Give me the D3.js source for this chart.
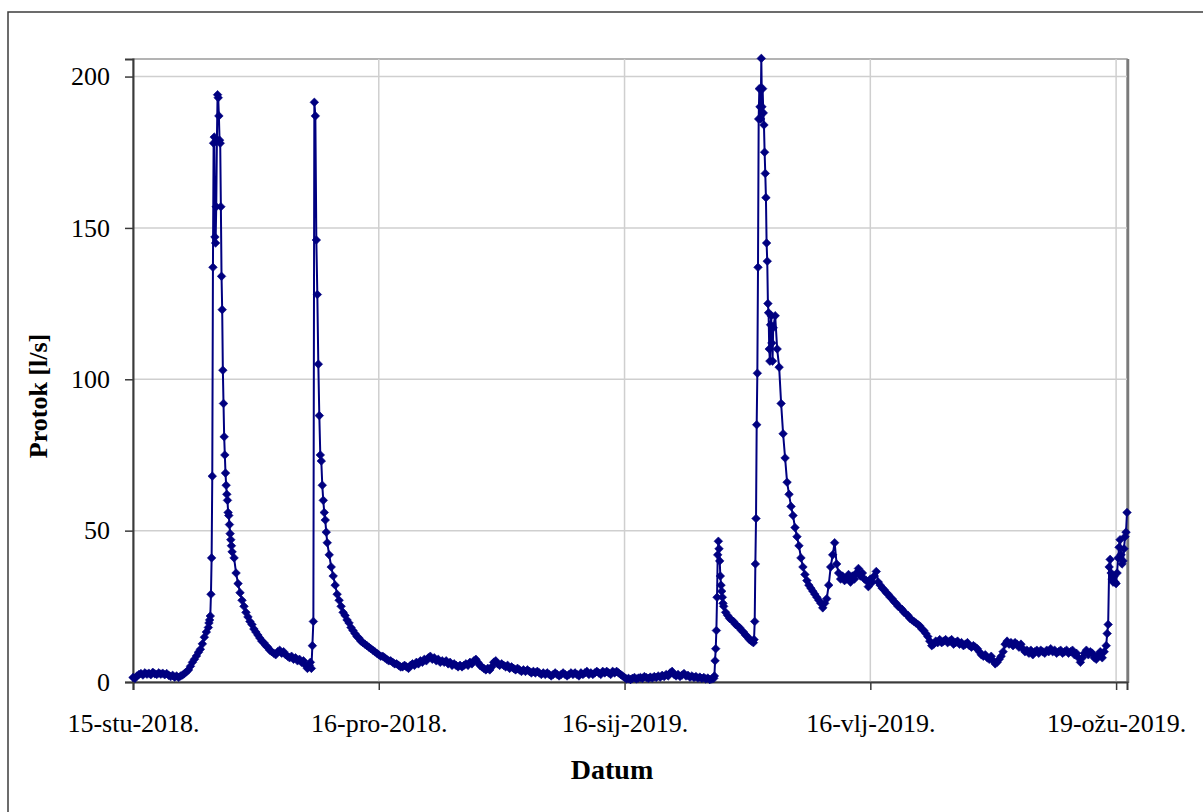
<!DOCTYPE html>
<html><head><meta charset="utf-8">
<script src="https://cdn.jsdelivr.net/npm/d3@7"></script>
<style>body{margin:0;background:#fff}svg{display:block}</style>
</head><body>
<svg id="c" width="1203" height="812"></svg>
<script>
// ---------- DATA (flow in l/s) ----------
// Regular 6-hour readings, one line per day (00, 06, 12, 18 h); null = covered by detailed peak records
const novFlow = [ // from 15 Nov 2018
  1.5, 1.2, 2.0, 2.5,
  2.8, 2.3, 3.0, 2.6,
  2.9, 2.4, 3.2, 2.7,
  2.5, 3.0, 2.6, 2.9,
  2.4, 2.8, 2.2, 1.8,
  2.2, 1.6, 2.0, 1.5,
  2.0, 2.3, 2.8, 3.4,
  4.0, 5.2, 6.5, 7.5,
  8.6, 9.8, 10.8, 12.6,
  14.8, 16.5, null, null,
  null, null, null, null,
  null, null, null, null,
  null, null, null, 41,
  36, 32.5, 29.5, 27,
  25, 23, 21.5, 20,
  19, 17.5, 16.5, 15.5
];
const decFlow = [ // from 1 Dec 2018
  14.5, 13.5, 13, 12,
  11.5, 10.5, 10, 9.5,
  9, 10, 10.5, 9.5,
  10, 9, 8.5, 8,
  8.5, 7.5, 8, 7,
  7.5, 6.5, 7, 5.5,
  4.5, 5.5, null, null,
  null, null, null, null,
  null, null, null, 42,
  38, 35, 32, 29,
  27, 25, 23, 22,
  20.5, 19.5, 18, 17,
  16, 15, 14.5, 13.5,
  13, 12.5, 12, 11.5,
  11, 10.5, 10, 9.5,
  9, 8.5, 8.5, 8,
  7.5, 7, 7, 6.5,
  6, 6, 5.5, 5,
  5, 5.5, 5, 4.5,
  5.5, 6, 5.5, 6.5,
  6, 7, 6.5, 7.5,
  7, 8, 8.5, 7.5,
  8, 7, 7.5, 6.5,
  7, 6.5, 7, 6,
  6.5, 5.5, 6, 5.5,
  5, 5.5, 5, 5.5,
  6, 5.5, 6.5, 6,
  7, 7.5, 6.5, 5.5,
  5, 4.5, 4, 4.5,
  4, 5, 6.5, 7,
  6, 5.5, 6, 5.5
];
const janFlow = [ // from 1 Jan 2019
  5, 5.5, 4.5, 5,
  4.5, 4, 4.5, 4,
  3.5, 4, 3.5, 4,
  3.5, 3, 3.5, 3,
  3.5, 3, 2.5, 3,
  2.5, 3, 2.5, 2,
  2.5, 3, 2.5, 2,
  2.5, 3, 2.5, 2,
  2.5, 3, 2.5, 3,
  2.5, 2, 3, 2.5,
  3, 3.5, 2.5, 3,
  2.5, 3, 3.5, 3,
  2.5, 3.5, 3, 3.5,
  3, 2.5, 3.5, 3,
  3.5, 3, 2.5, 2,
  1.5, 1, 1.2, 0.8,
  1.2, 1.5, 1, 1.3,
  1.5, 1.2, 1.8, 1.5,
  1.2, 1.6, 1.3, 1.8,
  1.5, 2, 1.6, 2.2,
  1.8, 2.5, 2, 3,
  3.5, 2.5, 2, 2.5,
  1.8, 2.3, 2.8, 2,
  2.2, 1.6, 2, 1.5,
  1.8, 1.3, 1.6, 1.2,
  1.5, 1, 1.3, 0.8,
  1, 1.2, null, null,
  null, null, null, 23,
  22, 21, 20.5, 20,
  19, 18.5, 18, 17,
  16.5, 15.5, 15, 14
];
const febFlow = [ // from 1 Feb 2019
  13.5, 13, null, null,
  null, null, null, null,
  null, null, null, 117,
  121, 110, 104, 92,
  82, 74, 66, 62,
  58, 55, 51, 48,
  45, 41, 38, 35.5,
  33.5, 32, 31, 30,
  29, 28, 27, 26,
  24.5, 26, 27.5, 32,
  38, 42, 46, 39,
  36, 34, 35, 33.5,
  34, 35.5, 33, 35,
  34, 36, 37.5, 35,
  36, 34, 33.5, 31.5,
  34, 33, 35, 36.5,
  33, 32, 31, 30.5,
  29.5, 29, 28, 27.5,
  26.5, 26, 25, 24.5,
  24, 23, 22.5, 22,
  21, 20.5, 20, 19.5,
  19, 18.5, 17.5, 17,
  16, 15, 13.5, 12,
  12.5, 13.5, 13, 14,
  13, 13.5, 14, 13,
  13.5, 14, 12.5, 13,
  13.5, 12.5, 13, 12,
  12.5, 13, 12, 11.5
];
const marFlow = [ // from 1 Mar 2019
  12, 11.5, 11, 10,
  9, 8.5, 9, 8,
  7.5, 8.5, 7, 6,
  6.5, 7.5, 8.5, 10,
  12.5, 13.5, 12.5, 13,
  12, 13, 12.5, 11.5,
  12.5, 11, 10, 10.5,
  9.5, 10.5, 9, 10,
  10.5, 9.5, 10.5, 10,
  9.5, 10.5, 10, 11,
  10, 10.5, 9.5, 10,
  10.5, 9.5, 10, 10.5,
  9.5, 10, 10.5, 9,
  9.5, 8, 6.5, 8,
  9.5, 10.5, 9, 10,
  9.5, 8, 7.5, 9,
  10, 8, 10, 12
];
// Detailed records during flood peaks
const peakNov = [18, 19.5, 20.5, 21.8, 29, 41, 68, 137, 178, 180, 147, 145, 157, 179, 194, 193, 187, 179, 178,
  157, 134, 123, 103, 92, 81, 75, 69, 65, 62, 60, 56, 55, 52, 49, 47, 45, 43];            // from 24 Nov 12:00, every 2 h
const peakDec = [6.5, 4.5, 12, 20, 191.5, 187, 146, 128, 105, 88, 75, 73, 65, 60, 56, 53.5, 49.5, 46]; // from 7 Dec 09:00, every 3 h
const peakJan = [2, 7, 11, 17, 28, 42, 46.5, 44, 40, 35, 32, 30, 28, 26, 25];            // from 27 Jan 08:00, every 2 h
const peakFeb = [14, 20, 39, 54, 85, 102, 137, 186, 196, 190, 186, 206, 190, 196, 188, 184, 175, 168, 160,
  145, 139, 125, 122, 110, 106, 118, 121, 112, 106];                                     // from 1 Feb 08:00, every 2 h
const endMar = [16, 19, 38, 40.5, 36, 34, 33, 35, 33, 32.5, 36, 41, 44.5, 47, 42, 39, 40, 44, 48, 49.5, 56]; // from 17 Mar 21:00, every 3 h

const records = [
  {start: "2018-11-15T00:00:00Z", stepH: 6, values: novFlow},
  {start: "2018-12-01T00:00:00Z", stepH: 6, values: decFlow},
  {start: "2019-01-01T00:00:00Z", stepH: 6, values: janFlow},
  {start: "2019-02-01T00:00:00Z", stepH: 6, values: febFlow},
  {start: "2019-03-01T00:00:00Z", stepH: 6, values: marFlow},
  {start: "2018-11-24T12:00:00Z", stepH: 2, values: peakNov},
  {start: "2018-12-07T09:00:00Z", stepH: 3, values: peakDec},
  {start: "2019-01-27T08:00:00Z", stepH: 2, values: peakJan},
  {start: "2019-02-01T08:00:00Z", stepH: 2, values: peakFeb},
  {start: "2019-03-17T21:00:00Z", stepH: 3, values: endMar}
];

const tickDates = ["2018-11-15", "2018-12-16", "2019-01-16", "2019-02-16", "2019-03-19"];
const tickLabels = ["15-stu-2018.", "16-pro-2018.", "16-sij-2019.", "16-vlj-2019.", "19-ožu-2019."];
const yTicks = [0, 50, 100, 150, 200];

// ---------- BUILD ----------
const HOUR = 3600e3;
let points = [];
records.forEach(r => {
  const t0 = Date.parse(r.start);
  r.values.forEach((v, i) => { if (v !== null) points.push({t: new Date(t0 + i * r.stepH * HOUR), v}); });
});
points.sort((a, b) => a.t - b.t);

const L = 133, R = 1127, T = 59, B = 682;
const x = d3.scaleUtc().domain([new Date(Date.parse("2018-11-15T00:00:00Z")), points[points.length - 1].t]).range([L, R]);
const y = d3.scaleLinear().domain([0, 205.8]).range([B, T]);

const svg = d3.select("#c");
const font = "'Liberation Serif','Times New Roman',serif";

// outer chart border
svg.append("rect").attr("x", 8).attr("y", 12).attr("width", 1400).attr("height", 1000)
  .attr("fill", "#fff").attr("stroke", "#3c3c3c").attr("stroke-width", 1.5);

// plot area
svg.append("rect").attr("x", L).attr("y", T).attr("width", R - L).attr("height", B - T)
  .attr("fill", "#fff").attr("stroke", "#9a9a9a").attr("stroke-width", 1.5);
svg.append("line").attr("x1", R + 1).attr("x2", R + 1).attr("y1", T).attr("y2", B + 1)
  .attr("stroke", "#7a7a7a").attr("stroke-width", 2.5);

// gridlines
const tDates = tickDates.map(s => new Date(Date.parse(s + "T00:00:00Z")));
svg.append("g").selectAll("line").data(yTicks.filter(d => d > 0)).join("line")
  .attr("x1", L).attr("x2", R).attr("y1", d => y(d)).attr("y2", d => y(d))
  .attr("stroke", "#cfcfcf").attr("stroke-width", 1.5);
svg.append("g").selectAll("line").data(tDates.slice(1)).join("line")
  .attr("x1", d => x(d)).attr("x2", d => x(d)).attr("y1", T).attr("y2", B)
  .attr("stroke", "#cfcfcf").attr("stroke-width", 1.5);

// axes
const yAxis = d3.axisLeft(y).tickValues(yTicks).tickSize(8).tickPadding(15).tickFormat(d3.format("d"));
const gy = svg.append("g").attr("transform", `translate(${L},0)`).call(yAxis);
const xAxis = d3.axisBottom(x).tickValues(tDates).tickSize(8).tickPadding(24).tickFormat((d, i) => tickLabels[i]);
const gx = svg.append("g").attr("transform", `translate(0,${B})`).call(xAxis);
[gx, gy].forEach(g => {
  g.select(".domain").attr("stroke", "#3a3a3a").attr("stroke-width", 2);
  g.selectAll(".tick line").attr("stroke", "#3a3a3a").attr("stroke-width", 1.5);
  g.selectAll(".tick text").attr("fill", "#000").style("font-family", font).style("font-size", "26px");
});

// series line + markers
const line = d3.line().x(d => x(d.t)).y(d => y(d.v));
svg.append("path").datum(points).attr("d", line)
  .attr("fill", "none").attr("stroke", "#000080").attr("stroke-width", 2).attr("stroke-linejoin", "round");
svg.append("g").selectAll("path").data(points).join("path")
  .attr("transform", d => `translate(${x(d.t)},${y(d.v)})`)
  .attr("d", "M0,-4.3L4.3,0L0,4.3L-4.3,0Z")
  .attr("fill", "#000080").attr("stroke", "#000080").attr("stroke-width", 0.6);

// axis titles
svg.append("text").attr("transform", "translate(38,396) rotate(-90)")
  .attr("text-anchor", "middle").attr("dominant-baseline", "central")
  .style("font-family", font).style("font-size", "26px").style("font-weight", "bold").text("Protok [l/s]");
svg.append("text").attr("x", 612).attr("y", 779).attr("text-anchor", "middle")
  .style("font-family", font).style("font-size", "28px").style("font-weight", "bold").text("Datum");
</script>
</body></html>
